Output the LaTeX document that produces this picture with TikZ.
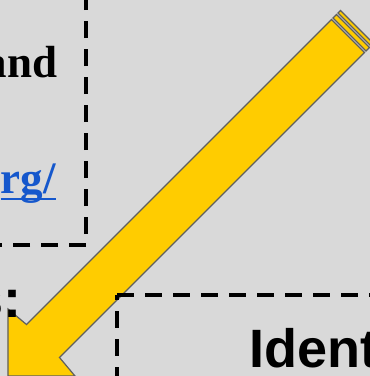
\documentclass[tikz,border=0pt]{standalone}
\usepackage{fontspec}
\setmainfont{Liberation Serif}
\setsansfont{Liberation Sans}
\usepackage{xcolor}
\definecolor{slidegray}{RGB}{217,217,217}
\definecolor{arrowgold}{RGB}{255,204,0}
\definecolor{edgegray}{RGB}{95,95,95}
\definecolor{linkblue}{RGB}{21,87,204}
\usetikzlibrary{positioning}

\begin{document}
\begin{tikzpicture}[x=1pt, y=-1pt,
    dashbox/.style={draw=black, line width=4pt, dash pattern=on 17pt off 11pt},
    bigarrow/.style={fill=arrowgold, draw=edgegray, line width=1.2pt, line join=miter},
    serifbold/.style={font=\fontsize{45}{54}\selectfont\bfseries, inner sep=0pt},
    sansbold/.style={font=\fontsize{54}{64}\selectfont\sffamily\bfseries, inner sep=0pt}
]
\useasboundingbox (0,0) rectangle (370,376);
\clip (0,0) rectangle (370,376);
\fill[slidegray] (0,0) rectangle (370,376);

% striped block arrow
\draw[bigarrow] (8,376) -- (8,309) -- (26.5,324.5) -- (331.5,19.5) -- (364.5,52.5) -- (59.5,357.5) -- (75,376) -- cycle;
\draw[bigarrow] (333,18) -- (336.5,14.5) -- (369.5,47.5) -- (366,51) -- cycle;
\draw[bigarrow] (338,13) -- (340.5,10.5) -- (373.5,43.5) -- (371,46) -- cycle;

% dashed frames
\draw[dashbox, dash phase=17pt] (86,245) -- (86,-4);
\draw[dashbox] (86,245) -- (-4,245);
\draw[dashbox] (117,295) -- (374,295);
\draw[dashbox, dash phase=12pt] (117,295) -- (117,380);

% texts
\node[serifbold, anchor=base east] (conj) at (57.5,77) {and};
\node[serifbold, anchor=base east, text=linkblue] (link) at (56,193) {rg/};
\draw[linkblue, line width=2.5pt] ([yshift=-6pt]link.base west) -- ([yshift=-6pt]link.base east);
\node[sansbold, anchor=base east] (colon) at (21.5,317) {s:};
\node[sansbold, anchor=base west] (title) at (249,367) {Ident};
\end{tikzpicture}
\end{document}
